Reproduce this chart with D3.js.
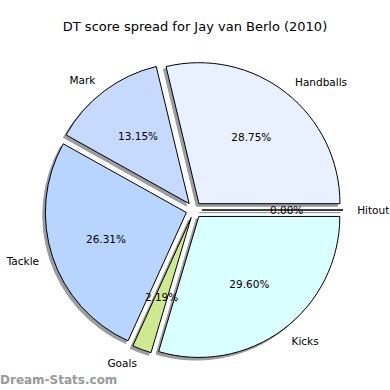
<!DOCTYPE html>
<html><head><meta charset="utf-8">
<script src="https://cdn.jsdelivr.net/npm/d3@7"></script>
<style>body{margin:0;background:#fff}svg{display:block}</style>
</head><body>
<script>
const categories = ["Handballs", "Mark", "Tackle", "Goals", "Kicks", "Hitout"];
const values = [28.75, 13.15, 26.31, 2.19, 29.60, 0.00];
const pctLabels = ["28.75%", "13.15%", "26.31%", "2.19%", "29.60%", "0.00%"];
const colors = ["#e9f0ff", "#c6d9ff", "#b7d5ff", "#cfe990", "#d9ffff", "#ffe0e0"];
const title = "DT score spread for Jay van Berlo (2010)";

const W = 390, H = 390;
const cx = 194, cy = 210;
const r = d3.scaleLinear().domain([0, 1]).range([0, 141]);
const explode = 0.057, labelDist = 1.1, pctDist = 0.6;

const svg = d3.select("body").append("svg").attr("width", W).attr("height", H);
svg.append("rect").attr("width", W).attr("height", H).attr("fill", "#fff");

const data = categories.map((c, i) => ({cat: c, v: values[i], pct: pctLabels[i], color: colors[i]}));
const pie = d3.pie().sort(null).value(d => d.v).startAngle(Math.PI / 2).endAngle(Math.PI / 2 - 2 * Math.PI);
const arcs = pie(data);
const arc = d3.arc().innerRadius(0).outerRadius(r(1));

function mid(a) { return (a.startAngle + a.endAngle) / 2; }
function pt(a, rad) { const m = mid(a); return [cx + Math.sin(m) * rad, cy - Math.cos(m) * rad]; }

const g = svg.append("g");
// shadows
g.selectAll("path.shadow").data(arcs).join("path")
  .attr("class", "shadow")
  .attr("d", arc)
  .attr("transform", d => { const [x, y] = pt(d, r(explode)); return `translate(${x - 2.6},${y + 2.6})`; })
  .attr("fill", "#9a9c9f").attr("stroke", "#9a9c9f").attr("stroke-width", 1);
// wedges
g.selectAll("path.wedge").data(arcs).join("path")
  .attr("class", "wedge")
  .attr("d", arc)
  .attr("transform", d => { const [x, y] = pt(d, r(explode)); return `translate(${x},${y})`; })
  .attr("fill", d => d.data.color).attr("stroke", "#000").attr("stroke-width", 1).attr("stroke-linejoin", "round");

// labels
g.selectAll("text.lab").data(arcs).join("text")
  .attr("class", "lab")
  .attr("x", d => pt(d, r(explode) + r(labelDist))[0])
  .attr("y", d => pt(d, r(explode) + r(labelDist))[1])
  .attr("text-anchor", d => Math.sin(mid(d)) > 0 ? "start" : "end")
  .attr("dominant-baseline", "central")
  .attr("font-family", "DejaVu Sans").attr("font-size", 10.5).attr("fill", "#000")
  .text(d => d.data.cat);
g.selectAll("text.pct").data(arcs).join("text")
  .attr("class", "pct")
  .attr("x", d => pt(d, r(explode) + r(pctDist))[0])
  .attr("y", d => pt(d, r(explode) + r(pctDist))[1])
  .attr("text-anchor", "middle")
  .attr("dominant-baseline", "central")
  .attr("font-family", "DejaVu Sans").attr("font-size", 10.5).attr("fill", "#000")
  .text(d => d.data.pct);

svg.append("text").attr("x", 195).attr("y", 26).attr("text-anchor", "middle")
  .attr("dominant-baseline", "central")
  .attr("font-family", "DejaVu Sans").attr("font-size", 13).attr("fill", "#000").text(title);

svg.append("text").attr("x", 0).attr("y", 384)
  .attr("font-family", "DejaVu Sans").attr("font-weight", "bold").attr("font-size", 12)
  .attr("fill", "#999").text("Dream-Stats.com");
</script>
</body></html>
